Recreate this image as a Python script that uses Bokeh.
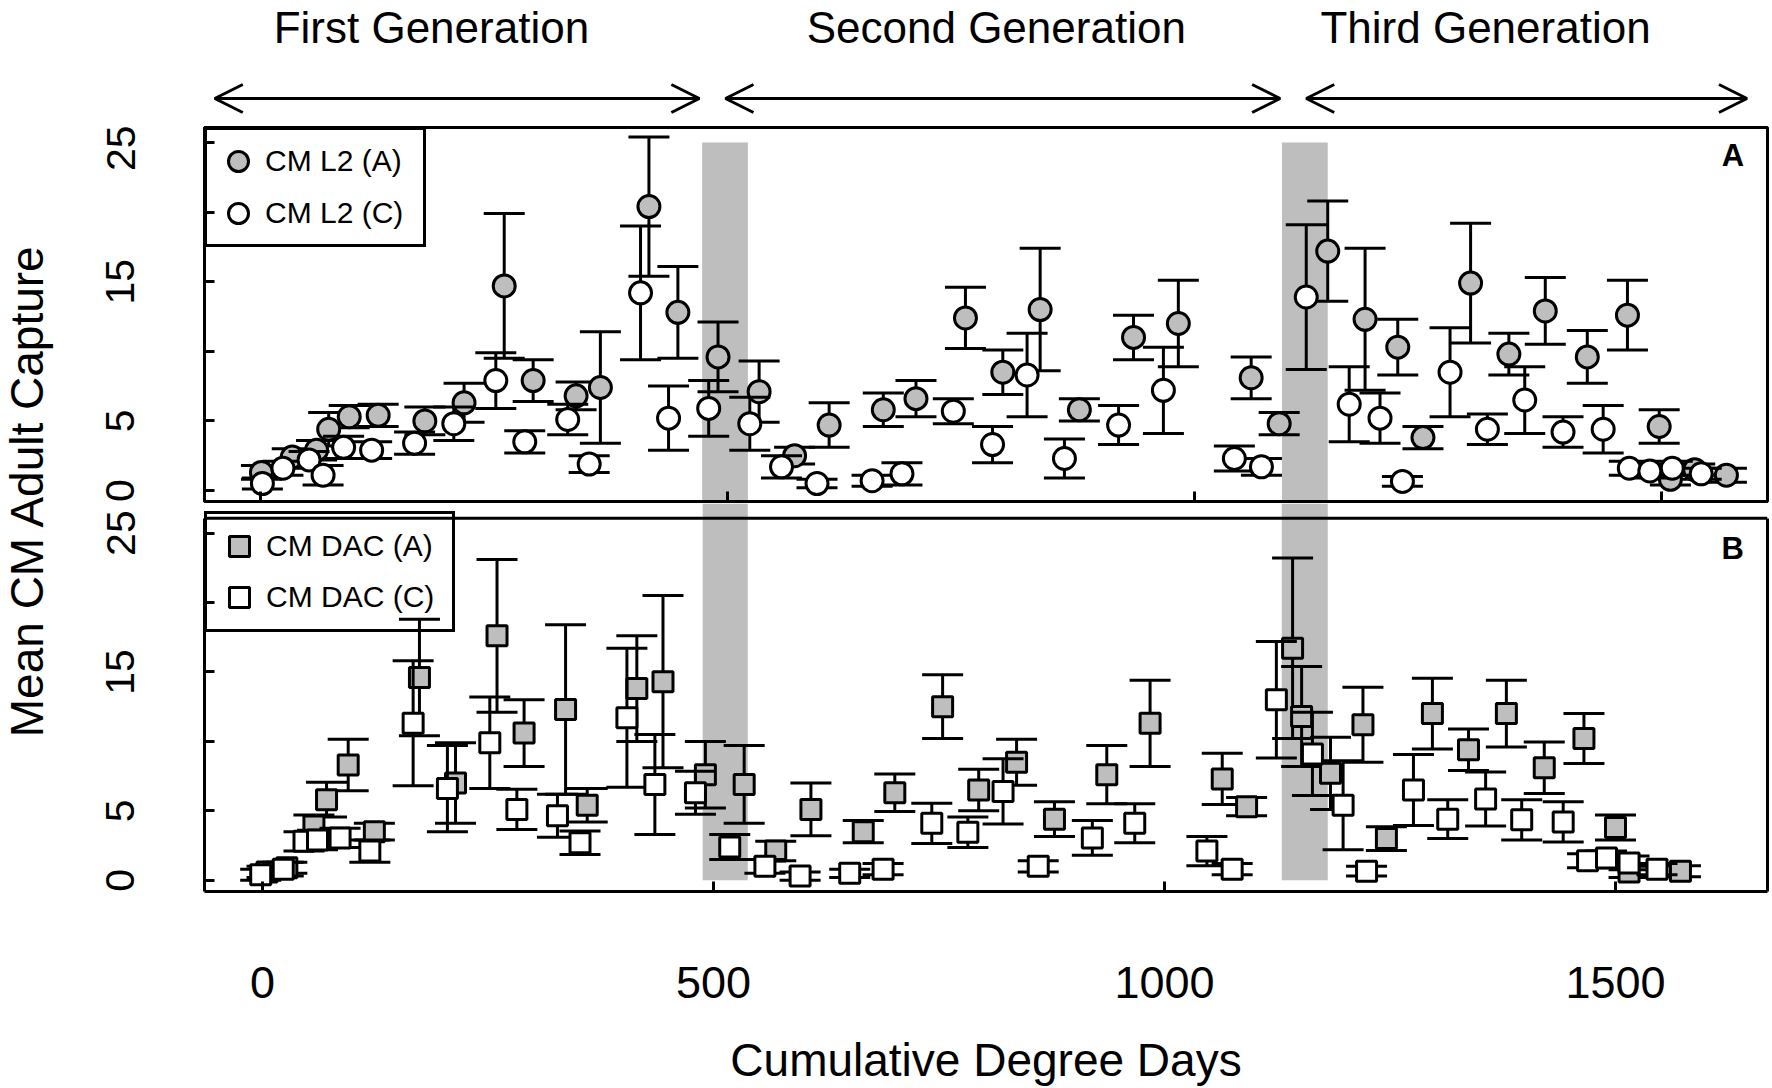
import numpy as np
from bokeh.plotting import figure
from bokeh.layouts import column, row
from bokeh.models import (Range1d, FixedTicker, Legend, LegendItem, Arrow, OpenHead,
                          LinearAxis, Span, ColumnDataSource)
from bokeh.core.properties import value
from bokeh.embed import file_html
from bokeh.resources import INLINE

FONT = "Liberation Sans"
GRAY = "#bebebe"

# panel A: CM L2 lures, (A) and (C)
l2_a_x = [1, 34, 60, 73, 95, 126, 176, 218, 261, 292, 338, 364, 416, 447, 490, 534, 572, 609, 667, 702,
          755, 795, 835, 877, 935, 983, 1061, 1091, 1143, 1183, 1218, 1245, 1296, 1337, 1376, 1421, 1464,
          1498, 1510, 1536, 1570]
l2_a_mean = [1.3, 2.4, 2.9, 4.4, 5.3, 5.4, 5.0, 6.3, 14.7, 7.9, 6.8, 7.4, 20.4, 12.8, 9.6, 7.1, 2.5, 4.7,
             5.8, 6.6, 12.4, 8.5, 13.0, 5.8, 11.0, 12.0, 8.1, 4.8, 17.2, 12.3, 10.3, 3.8, 14.9, 9.8, 12.9,
             9.6, 12.6, 4.6, 0.8, 1.5, 1.1]
l2_a_se = [0.5, 0.6, 0.7, 1.2, 0.8, 0.8, 1.0, 1.4, 5.2, 1.5, 1.0, 4.0, 5.0, 3.3, 2.5, 2.2, 0.6, 1.6, 1.2,
           1.3, 2.2, 1.6, 4.4, 0.8, 1.6, 3.1, 1.5, 0.8, 3.6, 5.1, 2.0, 0.8, 4.3, 1.5, 2.4, 1.9, 2.5, 1.2,
           0.4, 0.4, 0.5]

l2_c_x = [2, 24, 52, 67, 89, 119, 165, 207, 252, 283, 329, 352, 407, 437, 480, 524, 558, 596, 655, 687,
          742, 784, 821, 861, 919, 967, 1043, 1072, 1120, 1166, 1199, 1223, 1274, 1314, 1354, 1395, 1438,
          1466, 1488, 1512, 1543]
l2_c_mean = [0.5, 1.6, 2.2, 1.1, 3.1, 2.9, 3.4, 4.8, 7.9, 3.5, 5.1, 1.9, 14.2, 5.2, 5.9, 4.8, 1.7, 0.5,
             0.7, 1.2, 5.7, 3.3, 8.3, 2.3, 4.7, 7.2, 2.3, 1.7, 13.9, 6.2, 5.2, 0.65, 8.5, 4.4, 6.5, 4.2,
             4.4, 1.6, 1.4, 1.6, 1.2]
l2_c_se = [0.4, 0.5, 0.6, 0.7, 0.8, 0.6, 0.8, 1.2, 2.0, 0.8, 1.1, 0.6, 4.8, 2.3, 2.0, 1.9, 0.8, 0.3, 0.4,
           0.8, 0.9, 1.3, 3.0, 1.4, 1.4, 3.1, 0.9, 0.6, 5.2, 2.7, 1.8, 0.35, 3.2, 1.1, 2.4, 1.1, 1.7, 0.5,
           0.5, 0.5, 0.4]

# panel B: CM DAC lures, (A) and (C)
dac_a_x = [5, 27, 57, 71, 95, 124, 174, 214, 260, 290, 336, 360, 415, 444, 491, 534, 569, 608, 666, 701,
           754, 794, 836, 878, 936, 984, 1064, 1091, 1142, 1152, 1184, 1220, 1246, 1297, 1337, 1379, 1421,
           1465, 1500, 1515, 1572]
dac_a_mean = [0.6, 0.9, 3.9, 5.8, 8.3, 3.5, 14.6, 7.0, 17.6, 10.6, 12.3, 5.4, 13.8, 14.3, 7.6, 6.9, 2.1,
              5.1, 3.5, 6.3, 12.5, 6.5, 8.5, 4.4, 7.6, 11.3, 7.3, 5.3, 16.7, 11.8, 7.7, 11.2, 3.0, 12.0,
              9.4, 12.0, 8.1, 10.2, 3.8, 0.6, 0.65]
dac_a_se = [0.4, 0.4, 0.8, 1.25, 1.85, 0.6, 4.2, 2.9, 5.5, 2.4, 6.1, 1.2, 3.8, 6.2, 2.4, 2.8, 0.7, 1.9,
            0.8, 1.35, 2.3, 1.5, 1.65, 1.25, 2.1, 3.1, 1.85, 0.65, 6.5, 3.6, 2.6, 2.7, 0.85, 2.55, 1.5,
            2.4, 1.85, 1.8, 0.9, 0.4, 0.4]

dac_c_x = [-2, 23, 46, 61, 86, 119, 167, 205, 252, 282, 327, 352, 404, 435, 480, 518, 557, 596, 651, 688,
           742, 782, 821, 860, 920, 967, 1047, 1075, 1124, 1164, 1198, 1224, 1276, 1314, 1356, 1396, 1442,
           1469, 1490, 1515, 1546]
dac_c_mean = [0.4, 0.8, 2.8, 2.9, 3.05, 2.1, 11.3, 6.6, 9.9, 5.1, 4.65, 2.7, 11.7, 6.9, 6.3, 2.4, 1.0,
              0.3, 0.5, 0.8, 4.1, 3.45, 6.4, 1.0, 3.05, 4.1, 2.1, 0.8, 13.0, 9.1, 5.4, 0.65, 6.5, 4.4,
              5.85, 4.35, 4.2, 1.4, 1.6, 1.25, 0.8]
dac_c_se = [0.4, 0.5, 0.7, 0.7, 0.7, 0.8, 4.5, 3.1, 3.3, 1.45, 1.55, 0.85, 5.0, 3.6, 1.55, 0.9, 0.5, 0.3,
            0.3, 0.4, 1.45, 1.1, 2.35, 0.4, 1.25, 1.4, 1.05, 0.4, 4.2, 3.0, 3.2, 0.35, 2.55, 1.4, 1.95,
            1.45, 1.45, 0.5, 0.5, 0.5, 0.4]

xticks = [0, 500, 1000, 1500]
yticks_labeled = [0, 5, 15, 25]
yticks_unlabeled = [10, 20]

# shaded periods between generations (each panel has its own x scale)
band_a_start = [473, 1094]
band_a_end = [522, 1143]
band_b_start = [488, 1130]
band_b_end = [538, 1181]

gen_labels = ["First Generation", "Second Generation", "Third Generation"]
gen_label_x = [183, 788, 1312]
gen_arrow_start = [-49, 498, 1120]
gen_arrow_end = [470, 1092, 1592]


def add_series(p, xs, mean, se, marker, size, fill):
    x = np.asarray(xs, dtype=float)
    m = np.asarray(mean, dtype=float)
    s = np.asarray(se, dtype=float)
    src = ColumnDataSource(dict(x=x, m=m, lo=m - s, hi=m + s))
    p.segment("x", "lo", "x", "hi", source=src, line_color="black", line_width=3)
    p.scatter("x", "hi", source=src, marker="dash", size=41, line_color="black", line_width=3)
    p.scatter("x", "lo", source=src, marker="dash", size=41, line_color="black", line_width=3)
    return p.scatter("x", "m", source=src, marker=marker, size=size, fill_color=fill,
                     line_color="black", line_width=3)


def style_axes(p):
    p.grid.visible = False
    for ax in p.axis:
        ax.major_tick_in = 10
        ax.major_tick_out = 0
        ax.minor_tick_in = 10
        ax.minor_tick_out = 0
        ax.major_tick_line_width = 3
        ax.minor_tick_line_width = 3
        ax.minor_tick_line_color = "black"
        ax.axis_line_width = 3
        ax.major_label_text_font = FONT
        ax.major_label_text_color = "black"
    p.yaxis.ticker = FixedTicker(ticks=yticks_labeled, minor_ticks=yticks_unlabeled)
    p.yaxis.major_label_orientation = "vertical"
    p.yaxis.major_label_text_font_size = "41px"
    p.yaxis.major_label_standoff = 70


def legend(items, location, padding, spacing, label_width):
    return Legend(items=items, location=location, margin=0, padding=padding, spacing=spacing,
                  glyph_width=50, glyph_height=50, label_height=50, label_standoff=2,
                  label_width=label_width, border_line_color="black", border_line_width=3,
                  border_line_alpha=1.0, background_fill_alpha=0, label_text_font=FONT,
                  label_text_font_size="30px", label_text_color="black")


# y-axis title
pt = figure(width=68, height=1088, x_range=Range1d(0, 68), y_range=Range1d(0, 1088),
            output_backend="svg", toolbar_location=None, min_border=0,
            x_axis_location=None, y_axis_location=None, outline_line_color=None)
pt.grid.visible = False
pt.text(x=[26], y=[598], text=["Mean CM Adult Capture"], angle=np.pi / 2, text_align="center",
        text_baseline="middle", text_font=value(FONT), text_font_size="46px", text_color="black")

# panel A
xa = Range1d(-60, 1614)
ya = Range1d(-0.79, 26.08)
pa = figure(width=1704, height=378, x_range=xa, y_range=ya, output_backend="svg",
            toolbar_location=None, min_border_left=136, min_border_right=5,
            min_border_top=2, min_border_bottom=2)
pa.outline_line_color = "black"
pa.outline_line_width = 3
style_axes(pa)
pa.xaxis.ticker = FixedTicker(ticks=[], minor_ticks=xticks)
pa.xaxis.major_label_standoff = 0
pa.quad(left=band_a_start, right=band_a_end, bottom=ya.start, top=25, fill_color=GRAY, line_color=None)
r_l2a = add_series(pa, l2_a_x, l2_a_mean, l2_a_se, "circle", 22, GRAY)
r_l2c = add_series(pa, l2_c_x, l2_c_mean, l2_c_se, "circle", 22, "white")
pa.text(x=[1577], y=[24.1], text=["A"], text_align="center", text_baseline="middle",
        text_font=value(FONT), text_font_style="bold", text_font_size="31px")
pa.add_layout(legend([LegendItem(label="CM L2 (A)", renderers=[r_l2a]),
                      LegendItem(label="CM L2 (C)", renderers=[r_l2c])],
                     "top_left", 6, 2, 152))

# header with generation arrows
ph = figure(width=1704, height=125, x_range=xa, y_range=Range1d(0, 125), output_backend="svg",
            toolbar_location=None, min_border_left=136, min_border_right=5,
            min_border_top=0, min_border_bottom=0,
            x_axis_location=None, y_axis_location=None, outline_line_color=None)
ph.grid.visible = False
ph.text(x=gen_label_x, y=[98] * 3, text=gen_labels, text_align="center", text_baseline="middle",
        text_font=value(FONT), text_font_size="44px", text_color="black")
for s, e in zip(gen_arrow_start, gen_arrow_end):
    ph.add_layout(Arrow(start=OpenHead(size=28, line_width=3), end=OpenHead(size=28, line_width=3),
                        x_start=s, y_start=27, x_end=e, y_end=27, line_width=3))

# panel B (frame also covers the small gap above it)
yb_top = 26.06
xb = Range1d(-64.3, 1668.5)
yb = Range1d(-0.81, 27.13)
pb = figure(width=1704, height=585, x_range=xb, y_range=yb, output_backend="svg",
            toolbar_location=None, min_border_left=136, min_border_right=5,
            min_border_top=0, min_border_bottom=196)
pb.outline_line_color = None
style_axes(pb)
pb.xaxis.ticker = FixedTicker(ticks=xticks)
pb.yaxis.bounds = (yb.start, yb_top)
pb.xaxis.major_label_text_font_size = "45px"
pb.xaxis.major_label_text_line_height = 1.0
pb.xaxis.major_label_standoff = 75
pb.xaxis.axis_label = "Cumulative Degree Days"
pb.xaxis.axis_label_text_font = FONT
pb.xaxis.axis_label_text_font_size = "46px"
pb.xaxis.axis_label_text_font_style = "normal"
pb.xaxis.axis_label_text_color = "black"
pb.xaxis.axis_label_text_line_height = 1.0
pb.xaxis.axis_label_standoff = 33
right_axis = LinearAxis(ticker=FixedTicker(ticks=[]), bounds=(yb.start, yb_top), axis_line_width=3,
                        major_label_standoff=0, major_tick_in=0, major_tick_out=0,
                        minor_tick_in=0, minor_tick_out=0)
pb.add_layout(right_axis, "right")
pb.add_layout(Span(location=yb_top, dimension="width", line_color="black", line_width=3))
pb.quad(left=band_b_start, right=band_b_end, bottom=0, top=yb.end, fill_color=GRAY, line_color=None)
r_daca = add_series(pb, dac_a_x, dac_a_mean, dac_a_se, "square", 20, GRAY)
r_dacc = add_series(pb, dac_c_x, dac_c_mean, dac_c_se, "square", 20, "white")
pb.text(x=[1630], y=[23.9], text=["B"], text_align="center", text_baseline="middle",
        text_font=value(FONT), text_font_style="bold", text_font_size="31px")
pb.add_layout(legend([LegendItem(label="CM DAC (A)", renderers=[r_daca]),
                      LegendItem(label="CM DAC (C)", renderers=[r_dacc])],
                     (0, 259), 7, 1, 179))

layout = row(pt, column(ph, pa, pb))
open("out.html", "w").write(file_html(layout, INLINE, title="CM adult capture"))
